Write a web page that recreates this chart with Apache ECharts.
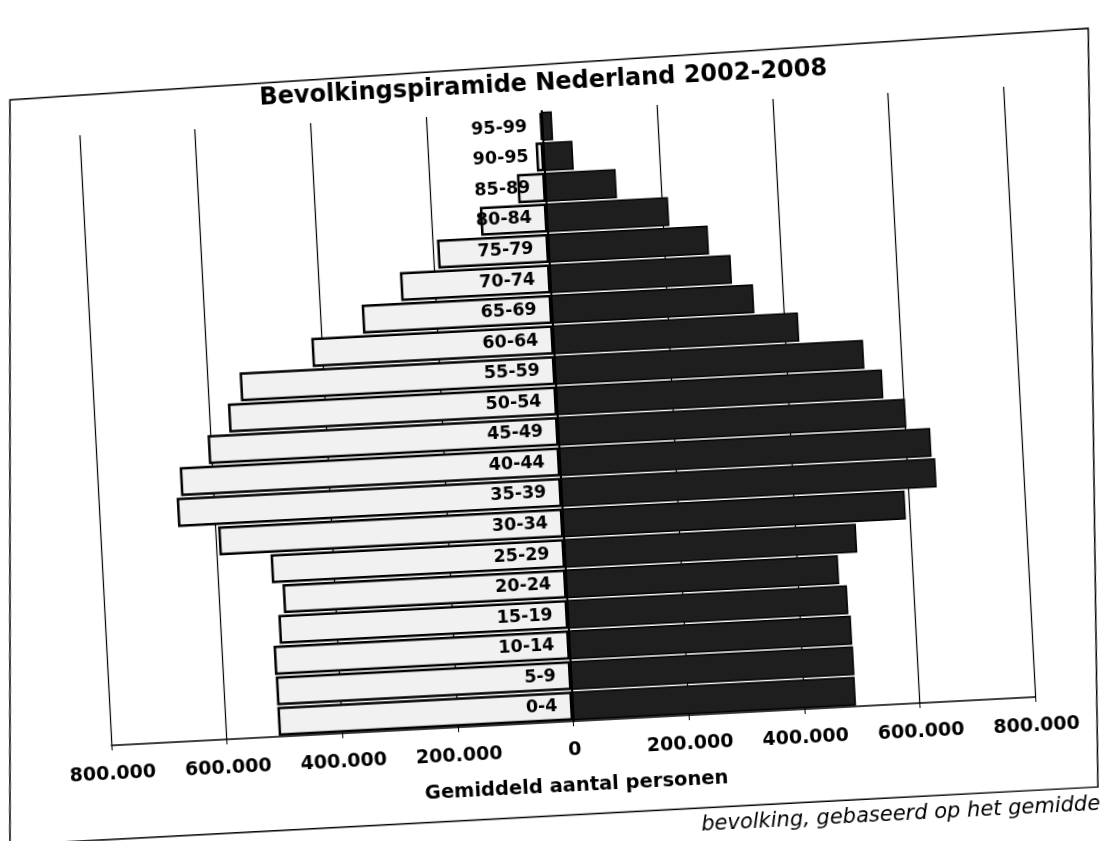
<!DOCTYPE html>
<html><head><meta charset="utf-8">
<script src="https://cdn.jsdelivr.net/npm/echarts/dist/echarts.min.js"></script>
<style>
html,body{margin:0;padding:0;background:#fff;overflow:hidden;width:1101px;height:841px;position:relative;}
#chart{position:absolute;left:-40px;top:-40px;width:1181px;height:921px;transform:rotate(-3deg);transform-origin:590.5px 460.5px;}
</style></head><body><div id="chart"></div>
<script>
const ageGroups = ['0-4','5-9','10-14','15-19','20-24','25-29','30-34','35-39','40-44','45-49','50-54','55-59','60-64','65-69','70-74','75-79','80-84','85-89','90-95','95-99'];
const mannen  = [510000,510000,511000,500000,490000,508000,596000,665000,657000,606000,568000,545000,418000,328000,259000,192000,115000,48000,13000,3000];
const vrouwen = [490000,490000,489000,485000,472000,506000,593000,649000,643000,602000,565000,535000,425000,350000,314000,277000,211000,123000,51000,18000];
const titleText = 'Bevolkingspiramide Nederland 2002-2008';
const xAxisName = 'Gemiddeld aantal personen';
const captionText = 'bevolking, gebaseerd op het gemiddelde';
const xMin = -800000, xMax = 800000, xStep = 200000;

function fmt(v){
  if (v === 0) return '0';
  return String(Math.abs(v)).replace(/\B(?=(\d{3})+(?!\d))/g, '.');
}
const FONT = 'DejaVu Sans';
const PAD = 40;                 // canvas is larger than the window so rotated corners stay filled
const W = 1101 + 2 * PAD, H = 841 + 2 * PAD;
const gridLeft = 95 + PAD, gridRight = 81 + PAD, gridTop = 111 + PAD, gridBottom = 119 + PAD;
const plotW = W - gridLeft - gridRight;
const zeroOffset = plotW * (0 - xMin) / (xMax - xMin);

const chart = echarts.init(document.getElementById('chart'), null, {renderer:'canvas'});
chart.setOption({
  animation:false,
  backgroundColor:'#fff',
  title:{text:titleText,left:556 + PAD,top:67 + PAD,textAlign:'center',
    textStyle:{fontFamily:FONT,fontWeight:'bold',fontSize:24,color:'#000'}},
  grid:{left:gridLeft,right:gridRight,top:gridTop,bottom:gridBottom,containLabel:false},
  xAxis:{type:'value',min:xMin,max:xMax,interval:xStep,
    name:xAxisName,nameLocation:'middle',nameGap:55,
    nameTextStyle:{fontFamily:FONT,fontWeight:'bold',fontSize:19.5,color:'#000'},
    axisLine:{show:true,lineStyle:{color:'#000',width:1.5}},
    axisTick:{show:true,length:5,lineStyle:{color:'#000'}},
    splitLine:{show:true,lineStyle:{color:'#000',width:1.2}},
    axisLabel:{formatter:fmt,fontFamily:FONT,fontWeight:'bold',fontSize:19,color:'#000',margin:20}},
  yAxis:{type:'category',data:ageGroups,z:10,position:'left',offset:-zeroOffset,
    axisLine:{show:true,onZero:false,lineStyle:{color:'#000',width:2}},
    axisTick:{show:false},
    splitLine:{show:false},
    axisLabel:{fontFamily:FONT,fontWeight:'bold',fontSize:17.5,color:'#000',margin:15}},
  series:[
    {name:'Mannen',type:'bar',stack:'p',barCategoryGap:'5%',
     data:mannen.map(v=>-v),
     itemStyle:{color:'#f1f1f1',borderColor:'#000',borderWidth:2.5}},
    {name:'Vrouwen',type:'bar',stack:'p',barCategoryGap:'5%',
     data:vrouwen,
     itemStyle:{color:'#1e1e1e',borderColor:'#000',borderWidth:1.5}}
  ],
  graphic:[
    {type:'polygon',shape:{points:[[27.5+PAD,72+PAD],[1108+PAD,57+PAD],[1078+PAD,815+PAD],[-11.5+PAD,816+PAD]]},
     style:{fill:null,stroke:'#000',lineWidth:1.5},silent:true},
    {type:'text',left:680+PAD,top:822+PAD,
     style:{text:captionText,fontFamily:FONT,fontStyle:'italic',fontSize:21,fill:'#000'}}
  ]
});
</script></body></html>
